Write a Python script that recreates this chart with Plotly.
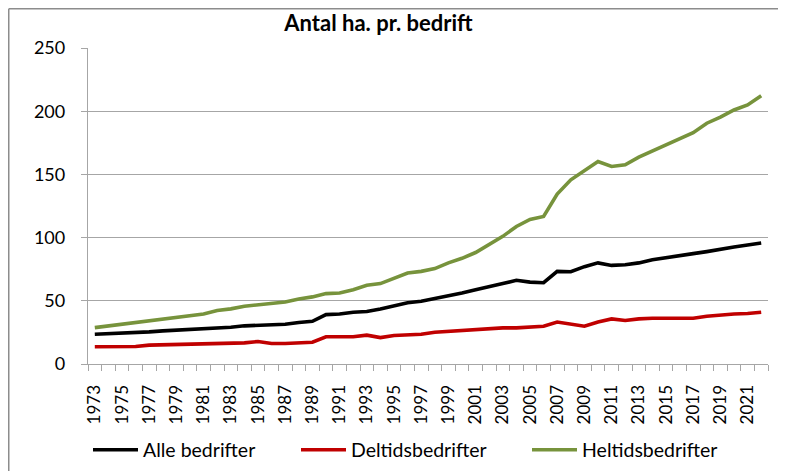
import plotly.graph_objects as go

years = list(range(1973, 2023))

alle_bedrifter = [23.5, 23.8, 24.6, 25.1, 25.4, 26.2, 26.7, 27.5, 27.7, 28.6,
                  29.1, 30.2, 30.4, 31.2, 31.5, 32.8, 33.8, 39.1, 39.6, 41.0,
                  41.5, 43.5, 46.0, 48.5, 49.6, 51.7, 53.6, 56.2, 58.8, 61.0,
                  63.6, 66.2, 64.8, 64.3, 73.3, 73.0, 77.0, 80.0, 78.0, 78.5,
                  80.0, 82.5, 83.9, 85.2, 87.3, 88.9, 91.0, 92.5, 94.2, 95.7]

deltidsbedrifter = [13.6, 13.6, 13.6, 13.9, 14.9, 15.1, 15.4, 15.7, 16.2, 16.5,
                    16.5, 16.7, 17.8, 16.2, 16.2, 16.7, 17.2, 21.5, 21.5, 21.5,
                    22.8, 20.9, 22.5, 23.3, 23.5, 25.1, 25.9, 26.5, 27.3, 28.0,
                    28.6, 28.6, 29.4, 29.9, 33.2, 31.2, 29.9, 33.3, 35.7, 34.4,
                    35.7, 36.2, 36.2, 36.2, 36.2, 37.8, 38.9, 39.6, 39.9, 40.9]

heltidsbedrifter = [28.8, 30.2, 31.7, 33.3, 34.6, 35.9, 37.3, 38.3, 39.6, 42.3,
                    43.6, 45.7, 47.0, 48.0, 49.1, 51.5, 53.1, 55.7, 56.2, 58.8,
                    62.3, 63.6, 68.0, 72.0, 73.3, 75.5, 80.0, 83.6, 88.2, 95.0,
                    101.0, 108.8, 114.4, 116.7, 134.5, 145.7, 153.0, 160.2, 156.3, 157.6,
                    163.7, 168.6, 173.4, 178.7, 183.0, 190.5, 195.3, 201.0, 205.0, 212.3]

x_labels = [y for y in years if y % 2 == 1]
y_ticks = [0, 50, 100, 150, 200, 250]

FONT = "Lato, 'Open Sans', sans-serif"
GRID = "#a6a6a6"

# page has an 8px body margin; figure is sized/placed to compensate
W, H = 778, 463
L, R, T, B = 80, 18, 40, 107
PW, PH = W - L - R, H - T - B


def px(xf):
    return (xf - L) / PW


def py(yf):
    return (H - B - yf) / PH


fig = go.Figure()
series = [
    ("Alle bedrifter", alle_bedrifter, "#000000", "legend"),
    ("Deltidsbedrifter", deltidsbedrifter, "#c00000", "legend2"),
    ("Heltidsbedrifter", heltidsbedrifter, "#77933c", "legend3"),
]
for name, vals, col, lg in series:
    fig.add_trace(go.Scatter(x=years, y=vals, mode="lines", name=name,
                             line=dict(color=col, width=3.6), legend=lg,
                             showlegend=True))

leg_common = dict(orientation="h", yref="container", yanchor="middle",
                  y=1 - 442 / H, xanchor="left",
                  itemwidth=45, font=dict(family=FONT, size=19.5, color="#000"),
                  bgcolor="rgba(0,0,0,0)")

fig.update_layout(
    width=W, height=H,
    margin=dict(l=L, r=R, t=T, b=B, autoexpand=False),
    showlegend=True,
    paper_bgcolor="white", plot_bgcolor="white",
    font=dict(family=FONT, color="#000"),
    title=dict(text="<b>Antal ha. pr. bedrift</b>", x=370.5 / W, xanchor="center",
               y=1 - 15 / H, yanchor="middle",
               font=dict(family=FONT, size=22, color="#000")),
    legend=dict(x=px(80), **leg_common),
    legend2=dict(x=px(288), **leg_common),
    legend3=dict(x=px(519), **leg_common),
    xaxis=dict(range=[1972.5, 2022.5], tickmode="array", tickvals=x_labels,
               ticktext=[str(v) for v in x_labels], tickangle=-90,
               ticks="", showgrid=False, zeroline=False, automargin=False,
               showline=True, linecolor=GRID, linewidth=1.3,
               tickfont=dict(family=FONT, size=17, color="#000"),
               ticklabelstandoff=13,
               minor=dict(ticks="outside", ticklen=6, tickcolor=GRID,
                          tickwidth=1.3, tick0=1972.5, dtick=1, showgrid=False)),
    yaxis=dict(range=[0, 250], tickmode="array", tickvals=y_ticks,
               ticks="outside", ticklen=6, tickcolor=GRID, tickwidth=1.3,
               showgrid=True, gridcolor=GRID, gridwidth=1.3, zeroline=False,
               showline=True, linecolor=GRID, linewidth=1.3, automargin=False,
               tickfont=dict(family=FONT, size=18, color="#000"),
               ticklabelstandoff=12),
    shapes=[
        dict(type="line", xref="paper", yref="paper",
             x0=px(0.75), x1=px(W + 10), y0=py(0.75), y1=py(0.75),
             line=dict(color="#8c8c8c", width=1.5)),
        dict(type="line", xref="paper", yref="paper",
             x0=px(0.75), x1=px(0.75), y0=py(0.75), y1=py(H + 10),
             line=dict(color="#8c8c8c", width=1.5)),
    ],
)

fig.write_html("out.html")
